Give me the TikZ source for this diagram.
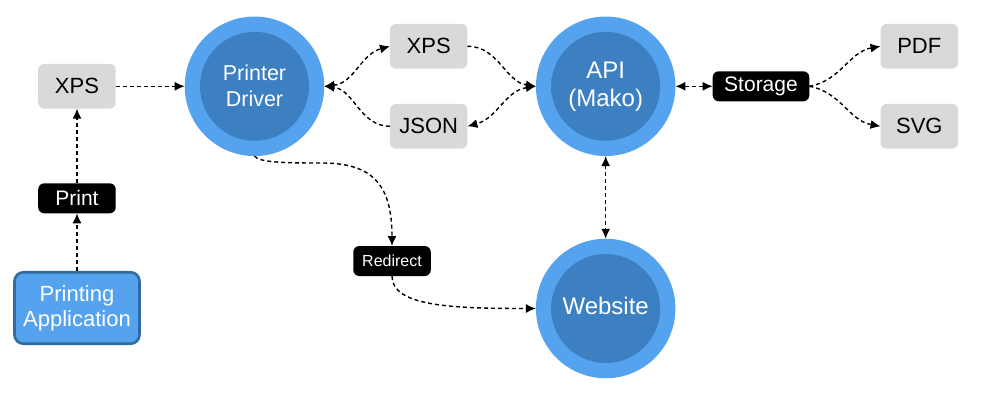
\documentclass[tikz,border=0pt]{standalone}
\usepackage{fontspec}
\setmainfont{Liberation Sans}
\usetikzlibrary{arrows.meta}
\newcommand{\lXps}{XPS}
\newcommand{\lJson}{JSON}
\newcommand{\lPdf}{PDF}
\newcommand{\lSvg}{SVG}
\newcommand{\lPrint}{Print}
\newcommand{\lRedirect}{Redirect}
\newcommand{\lStorage}{Storage}
\newcommand{\lApp}{Printing\\Application}
\newcommand{\lDriver}{Printer\\Driver}
\newcommand{\lApi}{API\\(Mako)}
\newcommand{\lWebsite}{Website}
\definecolor{themeBlue}{RGB}{85, 163, 239}
\definecolor{themeCore}{RGB}{61, 128, 194}
\definecolor{themeEdge}{RGB}{50, 106, 162}
\definecolor{themeGrey}{RGB}{217, 217, 217}
\pgfdeclareradialshading{core shade}{\pgfpoint{0bp}{0bp}}{color(0bp)=(themeCore); color(45bp)=(themeCore); color(50bp)=(themeEdge)}

\begin{document}
\begin{tikzpicture} [
        >={Latex[length=10pt,width=9pt]},
        hub/.style={circle, minimum size=139.5pt, inner sep=0pt, outer sep=0pt, fill=themeBlue},
        hub core/.style={circle, minimum size=109pt, inner sep=0pt, shading=core shade, text=white, align=center, font=\fontsize{21.5}{26}\selectfont},
        box/.style={rounded corners=6pt, minimum width=77.5pt, minimum height=44.7pt, inner sep=0pt, outer sep=0pt, fill=themeGrey, font=\fontsize{22}{26}\selectfont},
        tag/.style={rounded corners=6pt, minimum width=77.5pt, minimum height=30pt, inner sep=0pt, outer sep=0pt, fill=black, text=white, font=\fontsize{21}{25}\selectfont},
        app/.style={draw=themeEdge, line width=2.6pt, rounded corners=9pt, minimum width=125pt, minimum height=71.5pt, inner sep=0pt, outer sep=1.3pt, fill=themeBlue, text=white, align=center, font=\fontsize{22}{25}\selectfont},
        link/.style={draw, line width=1.4pt, dash pattern=on 4pt off 3pt}
    ]

    \useasboundingbox (-254.5pt,86.3pt) rectangle (727.5pt,-317.7pt);

    \path node[hub] (driver) {};
    \path (driver) node[hub core] (driver core) {\lDriver};
    \path (driver) ++(351.2pt,0) node[hub] (api) {};
    \path (api) node[hub core, font=\fontsize{24}{28}\selectfont] (api core) {\lApi};
    \path (api) ++(0,-222.2pt) node[hub] (website) {};
    \path (website) node[hub core, text depth=5.4pt, font=\fontsize{24}{28}\selectfont] (website core) {\lWebsite};

    \path (driver) ++(-177.5pt,0) node[box] (xps left) {\lXps};
    \path (xps left) ++(0,-112pt) node[tag] (print) {\lPrint};
    \path (print) ++(0,-109.7pt) node[app] (app) {\lApp};
    \path (driver) ++(174.2pt,40pt) node[box] (xps top) {\lXps};
    \path (driver) ++(174.2pt,-40pt) node[box] (json) {\lJson};
    \path (driver) ++(137.5pt,-174.7pt) node[tag, font=\fontsize{16}{20}\selectfont] (redirect) {\lRedirect};
    \path (api) ++(155.3pt,0) node[tag, minimum width=96.6pt] (storage) {\lStorage};
    \path (storage) ++(158.3pt,40pt) node[box] (pdf) {\lPdf};
    \path (storage) ++(158.3pt,-40pt) node[box] (svg) {\lSvg};

    \draw[link, ->] (app.north) -- (print.south);
    \draw[link, ->] (print.north) -- (xps left.south);
    \draw[link, ->] (xps left.east) -- (driver.west);

    \draw[link, <->] (driver.east) to[out=6, in=195] (xps top.west);
    \draw[link, ->] (json.west) to[out=180, in=-6] (driver.east);
    \draw[link, ->] (xps top.east) to[out=0, in=172] (api.west);
    \draw[link, <->] (api.west) to[out=188, in=15] (json.east);

    \draw[link, <->] (api.east) -- (storage.west);
    \draw[link, ->] (storage.east) to[out=10, in=190] (pdf.west);
    \draw[link, ->] (storage.east) to[out=-10, in=170] (svg.west);
    \draw[link, <->] (api.south) -- (website.north);

    \coordinate (redirect bend) at (67.5pt,-76.7pt);
    \draw[link, ->] (driver.south) .. controls +(4pt,-7pt) and +(-30pt,0) .. (redirect bend) .. controls +(50pt,0) and +(0,62pt) .. (redirect.north);
    \draw[link, ->] (redirect.south) .. controls +(0,-30pt) and +(-86pt,0) .. (website.west);

\end{tikzpicture}
\end{document}
